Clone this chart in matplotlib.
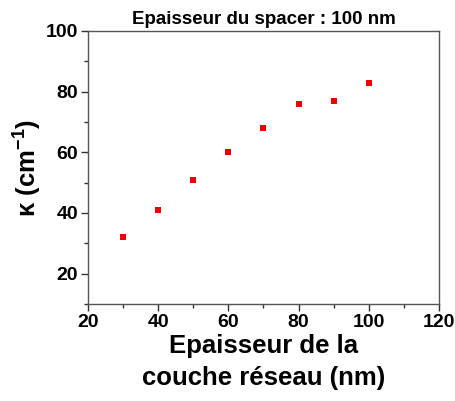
import matplotlib
matplotlib.use('Agg')
import matplotlib.pyplot as plt
from matplotlib.ticker import MultipleLocator

plt.rcParams['font.family'] = ['Liberation Sans', 'DejaVu Sans']
plt.rcParams['mathtext.fontset'] = 'custom'
plt.rcParams['mathtext.rm'] = 'Liberation Sans:bold'
plt.rcParams['mathtext.bf'] = 'Liberation Sans:bold'

# epaisseur de la couche reseau (nm) vs kappa (cm-1)
thickness = [30, 40, 50, 60, 70, 80, 90, 100]
kappa = [32, 41, 51, 60, 68, 76, 77, 83]

fig = plt.figure(figsize=(4.56, 4.01), dpi=100)
ax = fig.add_axes([88/456, 1-304/401, 351/456, 273/401])

ax.plot(thickness, kappa, 's', color='#ee0000', markersize=4.2, markeredgewidth=0)

ax.set_xlim(20, 120)
ax.set_ylim(10, 100)
ax.xaxis.set_major_locator(MultipleLocator(20))
ax.xaxis.set_minor_locator(MultipleLocator(10))
ax.yaxis.set_major_locator(MultipleLocator(20))
ax.yaxis.set_minor_locator(MultipleLocator(10))
ax.tick_params(which='both', direction='out', top=False, right=False, width=1, color='#333333')
ax.tick_params(which='major', length=5, labelsize=14, pad=2)
ax.tick_params(which='minor', length=3)
for lab in ax.get_xticklabels() + ax.get_yticklabels():
    lab.set_fontweight('bold')
for s in ax.spines.values():
    s.set_color('#555555')
    s.set_linewidth(1)

ax.set_title('Epaisseur du spacer : 100 nm', fontsize=13.5, fontweight='bold', pad=5)
ax.set_xlabel('Epaisseur de la\ncouche réseau (nm)', fontsize=18.5, fontweight='bold',
              linespacing=1.45, labelpad=2)
ax.set_ylabel('κ (cm$^{-1}$)', fontsize=18.5, fontweight='bold', labelpad=2)

plt.savefig('out.png', dpi=100)
